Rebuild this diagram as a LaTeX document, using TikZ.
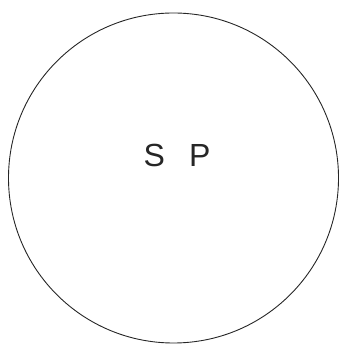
\documentclass[tikz,border=0pt]{standalone}
\usepackage{fontspec}
\setmainfont{Liberation Sans}
\begin{document}
\begin{tikzpicture}[x=1pt,y=1pt,
  ring/.style={draw=black!85,line width=0.9pt},
  lbl/.style={font=\fontsize{32}{36}\selectfont,inner sep=0pt,text=black!85}]
\useasboundingbox (0,0) rectangle (341,345);
\node[ring,circle,minimum size=330pt,inner sep=0pt] (c) at (173.5,167) {};
\node[lbl] (t) at (177,190) {S\hspace{24pt}P};
\end{tikzpicture}
\end{document}
